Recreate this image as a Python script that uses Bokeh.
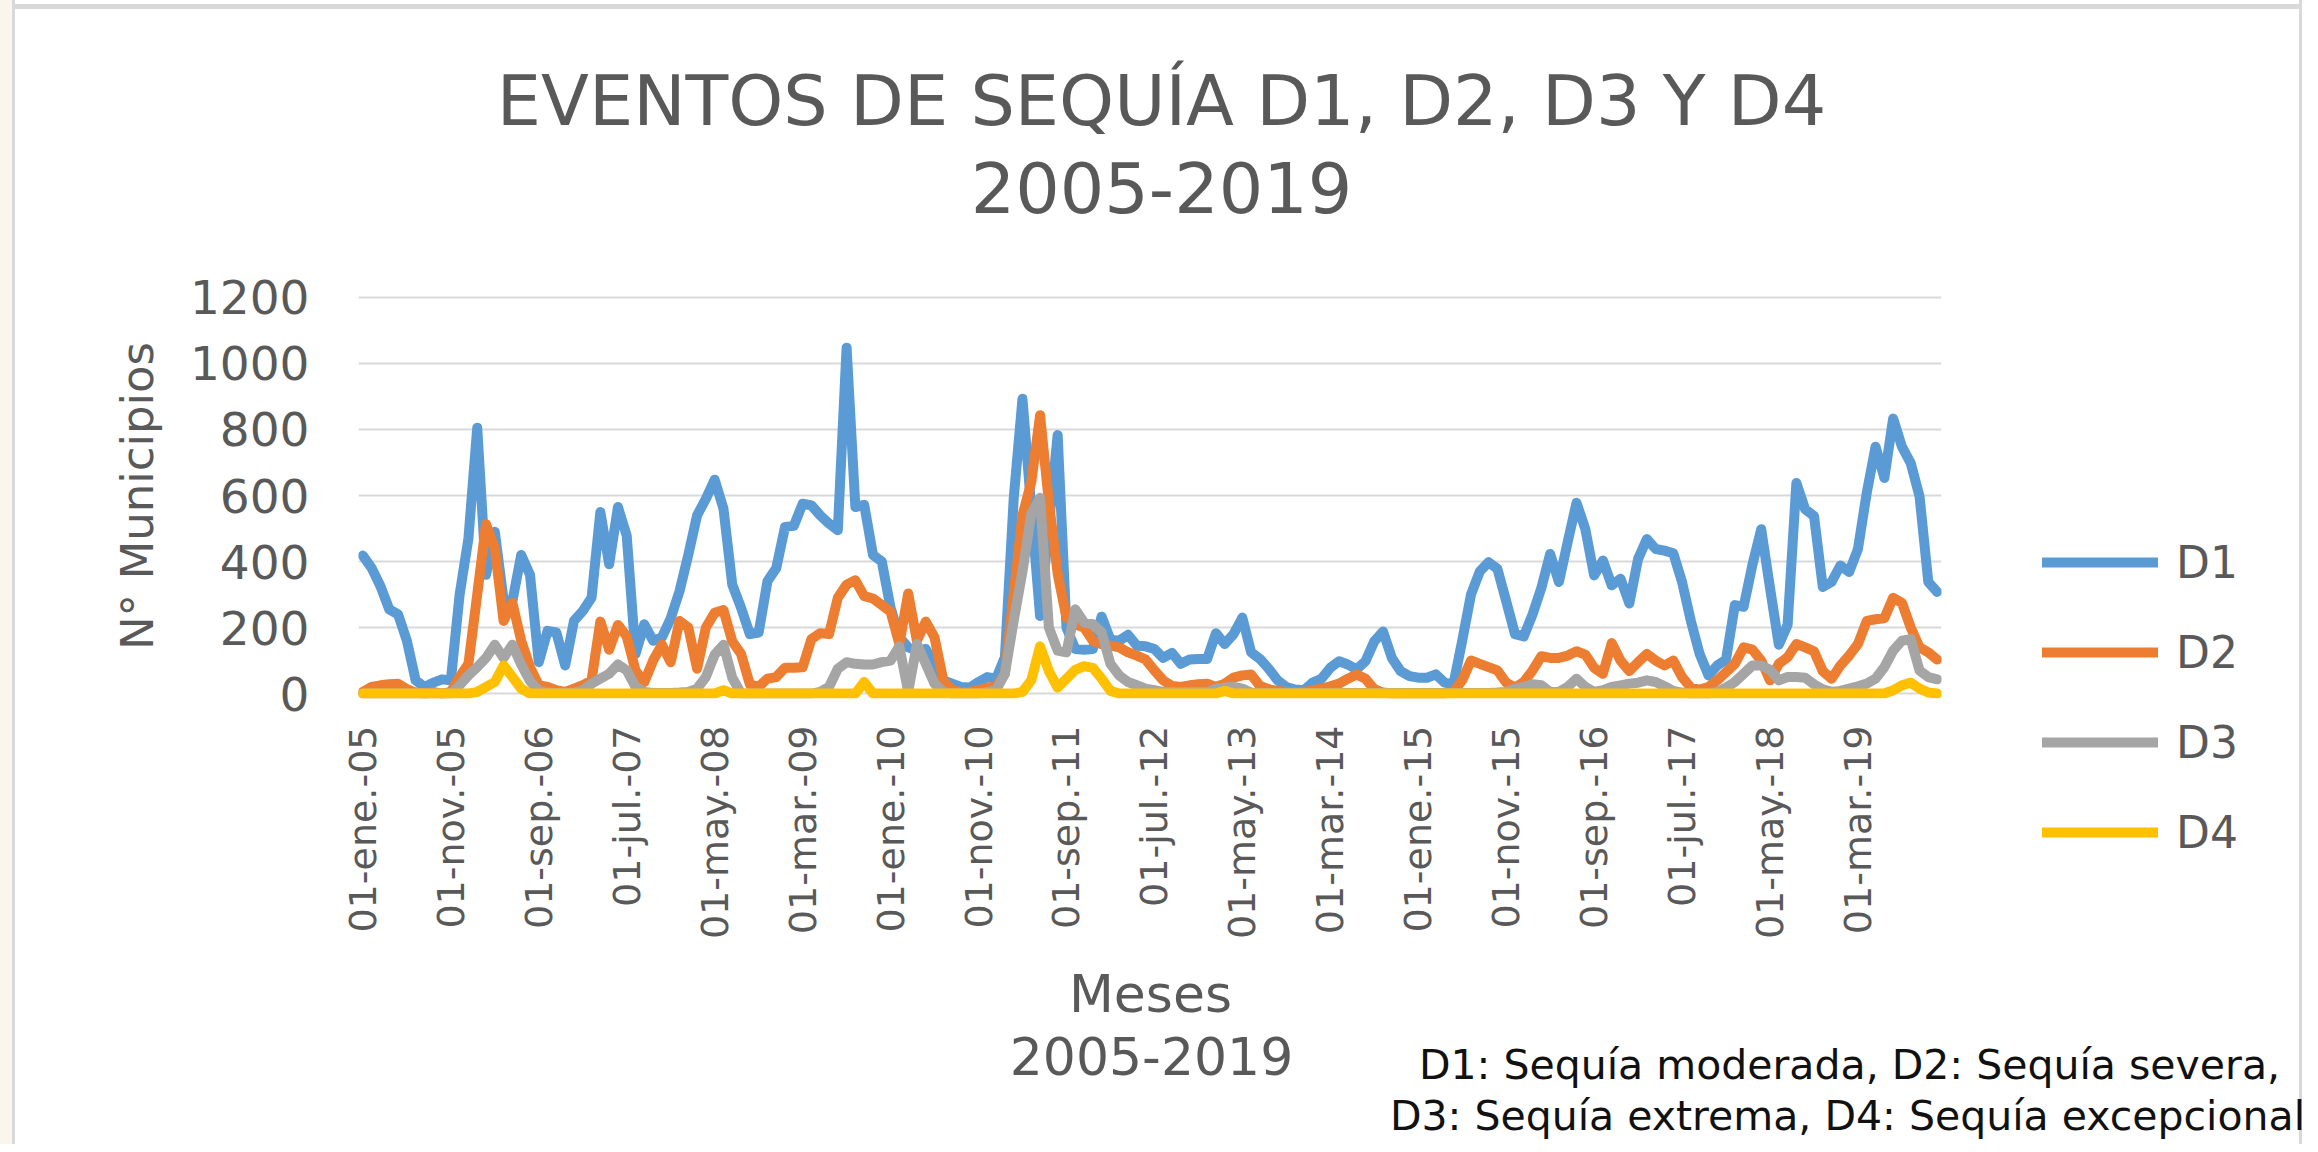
import math
from bokeh.plotting import figure
from bokeh.models import Range1d, FixedTicker, Label, Legend, LegendItem
from bokeh.layouts import column
from bokeh.embed import file_html
from bokeh.resources import INLINE

# ---------------- data (monthly, ene-2005 .. dic-2019) ----------------
tick_labels = ["01-ene.-05", "01-nov.-05", "01-sep.-06", "01-jul.-07", "01-may.-08",
               "01-mar.-09", "01-ene.-10", "01-nov.-10", "01-sep.-11", "01-jul.-12",
               "01-may.-13", "01-mar.-14", "01-ene.-15", "01-nov.-15", "01-sep.-16",
               "01-jul.-17", "01-may.-18", "01-mar.-19"]

D1 = [418, 380, 325, 255, 240, 160, 40, 20, 33, 43,
      40, 300, 470, 805, 360, 490, 283, 280, 420, 360,
      95, 190, 185, 85, 220, 250, 290, 550, 392, 565,
      478, 120, 210, 160, 170, 228, 310, 420, 540, 590,
      648, 560, 330, 260, 180, 185, 340, 380, 505, 508,
      575, 570, 540, 515, 495, 1048, 565, 572, 420, 400,
      260, 170, 140, 130, 135, 90, 40, 30, 20, 18,
      35, 50, 45, 110, 590, 893, 560, 235, 510, 783,
      200, 135, 133, 135, 233, 163, 160, 178, 145, 143,
      135, 108, 123, 90, 103, 105, 105, 183, 150, 180,
      230, 125, 105, 75, 40, 20, 12, 10, 33, 45,
      78, 98, 88, 73, 98, 158, 188, 108, 68, 53,
      48, 48, 58, 33, 28, 160, 300, 370, 398, 378,
      280, 180, 173, 240, 320, 423, 338, 460, 578, 498,
      358, 403, 328, 348, 273, 408, 468, 438, 433, 425,
      338, 220, 120, 55, 85, 103, 268, 263, 390, 498,
      320, 148, 208, 638, 558, 538, 323, 338, 388, 368,
      438, 608, 748, 653, 833, 748, 698, 598, 338, 308]

D2 = [5, 20, 25, 28, 30, 13, 3, 0, 5, 0,
      5, 50, 90, 300, 513, 440, 220, 275, 160, 80,
      25, 20, 10, 5, 15, 25, 40, 218, 133, 208,
      173, 70, 35, 100, 148, 95, 220, 200, 75, 200,
      245, 253, 158, 120, 28, 20, 45, 50, 78, 78,
      80, 165, 183, 180, 290, 330, 343, 295, 288, 268,
      248, 150, 303, 160, 218, 170, 40, 10, 5, 5,
      10, 18, 20, 60, 300, 540, 640, 843, 580, 363,
      230, 210, 200, 160, 150, 145, 140, 125, 115, 103,
      70, 40, 23, 20, 25, 28, 30, 20, 30, 48,
      55, 58, 23, 13, 8, 5, 5, 5, 10, 15,
      22, 30, 45, 58, 45, 13, 3, 0, 0, 0,
      0, 0, 0, 0, 5, 40, 100, 90, 80, 70,
      33, 18, 35, 70, 113, 108, 108, 115, 128, 118,
      78, 60, 153, 100, 68, 95, 120, 100, 85, 100,
      50, 18, 12, 20, 40, 65, 90, 140, 133, 100,
      40, 90, 110, 150, 140, 128, 68, 45, 85, 115,
      150, 220, 225, 228, 290, 275, 200, 140, 125, 103]

D3 = [0, 0, 0, 0, 0, 0, 0, 0, 0, 0,
      0, 25, 55, 80, 108, 148, 108, 148, 88, 38,
      8, 3, 2, 2, 3, 10, 30, 45, 60, 88,
      70, 20, 5, 2, 2, 2, 3, 5, 15, 50,
      118, 148, 48, 0, 0, 0, 0, 0, 0, 0,
      0, 0, 5, 20, 75, 95, 90, 88, 88, 95,
      100, 143, 5, 150, 90, 30, 5, 0, 0, 0,
      0, 5, 10, 60, 220, 370, 545, 593, 200, 130,
      125, 255, 215, 210, 185, 90, 55, 35, 25, 15,
      10, 5, 5, 5, 5, 5, 5, 15, 18, 20,
      15, 3, 2, 2, 2, 2, 2, 2, 2, 2,
      2, 2, 2, 2, 2, 2, 2, 2, 2, 2,
      2, 2, 2, 2, 2, 2, 2, 2, 2, 3,
      5, 15, 20, 28, 25, 5, 5, 20, 45, 20,
      5, 10, 20, 25, 30, 33, 40, 35, 22, 8,
      3, 0, 0, 0, 5, 18, 35, 60, 85, 85,
      72, 40, 50, 50, 48, 28, 13, 5, 8, 15,
      22, 30, 45, 80, 130, 160, 165, 70, 50, 43]

D4 = [0, 0, 0, 0, 0, 0, 0, 0, 0, 0,
      0, 0, 0, 5, 20, 35, 85, 50, 15, 0,
      0, 0, 0, 0, 0, 0, 0, 0, 0, 0,
      0, 0, 0, 0, 0, 0, 0, 0, 0, 0,
      0, 10, 0, 0, 0, 0, 0, 0, 0, 0,
      0, 0, 0, 0, 0, 0, 0, 35, 0, 0,
      0, 0, 0, 0, 0, 0, 0, 0, 0, 0,
      0, 0, 0, 0, 0, 5, 40, 143, 68, 18,
      45, 72, 83, 78, 45, 8, 0, 0, 0, 0,
      0, 0, 0, 0, 0, 0, 0, 0, 8, 0,
      0, 0, 0, 0, 0, 0, 0, 0, 0, 0,
      0, 0, 0, 0, 0, 0, 0, 0, 0, 0,
      0, 0, 0, 0, 0, 0, 0, 0, 0, 0,
      0, 0, 0, 0, 0, 0, 0, 0, 0, 0,
      0, 0, 0, 0, 0, 0, 0, 0, 0, 0,
      0, 0, 0, 0, 0, 0, 0, 0, 0, 0,
      0, 0, 0, 0, 0, 0, 0, 0, 0, 0,
      0, 0, 0, 0, 10, 25, 33, 15, 3, 0]

series_names = ["D1", "D2", "D3", "D4"]
series_colors = ["#5B9BD5", "#ED7D31", "#A5A5A5", "#FFC000"]
y_ticks = [0, 200, 400, 600, 800, 1000, 1200]

n = len(D1)
x = list(range(n))
tick_pos = list(range(0, n, 10))[:len(tick_labels)]

# ---------------- layout (pixels inside the canvas) ----------------
W, H = 2318, 1144
FL, FR, FT, FB = 358, 1941, 293, 698
Y0, Y1 = -15, 1212

p = figure(width=W, height=H,
           x_range=Range1d(-0.5, n - 0.5), y_range=Range1d(Y0, Y1),
           output_backend="svg", toolbar_location=None,
           min_border_left=FL, min_border_right=W - FR,
           min_border_top=FT, min_border_bottom=H - FB)
p.title.visible = False
p.outline_line_color = None
p.background_fill_color = "white"
p.border_fill_color = None

# light grey frame of the chart box (drawn as CSS behind the transparent canvas border)
try:
    p.styles = {
        "background-color": "white",
        "box-shadow": ("inset 12px 0 0 0 #faf6ee, inset 15px 0 0 0 #d9d9d9, "
                       "inset -16px 0 0 0 white, inset -19px 0 0 0 #d9d9d9, "
                       "inset 0 4px 0 0 white, inset 0 9px 0 0 #d9d9d9"),
    }
except Exception:
    p.border_fill_color = "white"


def dx(px):
    return -0.5 + (px - FL) * n / (FR - FL)


def dy(py):
    return Y0 + (FB - py) * (Y1 - Y0) / (FB - FT)


TXT = "#595959"
FONT = "DejaVu Sans"

# axes
p.xaxis.ticker = FixedTicker(ticks=tick_pos)
p.xaxis.major_label_overrides = {t: l for t, l in zip(tick_pos, tick_labels)}
p.xaxis.major_label_orientation = math.pi / 2
p.xaxis.major_label_text_font = FONT
p.xaxis.major_label_text_font_size = "38px"
p.xaxis.major_label_text_color = TXT
p.xaxis.major_label_standoff = 27
p.xaxis.axis_line_color = None
p.xaxis.major_tick_line_color = None
p.xaxis.major_tick_out = 0
p.xaxis.major_tick_in = 0
p.xaxis.minor_tick_line_color = None

p.yaxis.ticker = FixedTicker(ticks=y_ticks)
p.yaxis.major_label_text_font = FONT
p.yaxis.major_label_text_font_size = "47px"
p.yaxis.major_label_text_color = TXT
p.yaxis.major_label_standoff = 49
p.yaxis.axis_line_color = None
p.yaxis.major_tick_line_color = None
p.yaxis.major_tick_out = 0
p.yaxis.major_tick_in = 0
p.yaxis.minor_tick_line_color = None
p.yaxis.axis_label = "N° Municipios"
p.yaxis.axis_label_text_font = FONT
p.yaxis.axis_label_text_font_size = "45px"
p.yaxis.axis_label_text_font_style = "normal"
p.yaxis.axis_label_text_color = TXT
p.yaxis.axis_label_standoff = 23

p.xgrid.visible = False
p.ygrid.ticker = FixedTicker(ticks=y_ticks)
p.ygrid.grid_line_color = "#d9d9d9"
p.ygrid.grid_line_width = 2

# lines
for col, data in zip(series_colors, [D1, D2, D3, D4]):
    p.line(x, data, line_color=col, line_width=10, line_join="round", line_cap="round")


# texts (in side panels so that they are not clipped to the plot frame)
def add_text(txt, px, py, size, side, color=TXT, align="center"):
    p.add_layout(Label(x=dx(px), y=dy(py), text=txt, text_align=align, text_baseline="middle",
                       text_font=FONT, text_font_size=size, text_color=color), side)


add_text("EVENTOS DE SEQUÍA D1, D2, D3 Y D4", 1161, 100, "70px", "above")
add_text("2005-2019", 1161, 187, "70px", "above")
add_text("Meses", 1150, 993, "52px", "below")
add_text("2005-2019", 1151, 1055, "52px", "below")
add_text("D1: Sequía moderada, D2: Sequía severa,", 1849, 1064, "41px", "above", color="#111111")
add_text("D3: Sequía extrema, D4: Sequía excepcional", 1847, 1115, "41px", "above", color="#111111")

# ---------------- legend: a small transparent figure laid over the right margin ----------------
LW, LH = W - FR, 620
LEG_TOP = 532 - FT                 # top of first legend row, inside the overlay
LEG_H = 4 * 60 + 3 * 30
# the overlay's ranges lie outside the data, so its series stay hidden and only the key shows
pl = figure(width=LW, height=LH, x_range=Range1d(n + 1000, n + 1000 + LW),
            y_range=Range1d(5000, 5000 + LH),
            output_backend="svg", toolbar_location=None, min_border=0,
            x_axis_type=None, y_axis_type=None)
pl.title.visible = False
pl.grid.visible = False
pl.outline_line_color = None
pl.background_fill_color = None
pl.border_fill_color = None
leg_items = []
for nm, col, data in zip(series_names, series_colors, [D1, D2, D3, D4]):
    r = pl.line(x, data, line_color=col, line_width=10, line_cap="round")
    leg_items.append(LegendItem(label=nm, renderers=[r]))
legend = Legend(items=leg_items, location=(2042 - FR, LH - LEG_TOP - LEG_H),
                orientation="vertical", glyph_width=116, glyph_height=60, label_height=60,
                label_standoff=18, spacing=30, padding=0, margin=0,
                border_line_color=None, background_fill_alpha=0,
                label_text_font=FONT, label_text_font_size="44px", label_text_color=TXT)
pl.add_layout(legend, "center")
pl.styles = {"position": "absolute", "left": f"{FR}px", "top": f"{FT}px"}

layout = column(p, pl)
open("out.html", "w").write(file_html(layout, INLINE))
